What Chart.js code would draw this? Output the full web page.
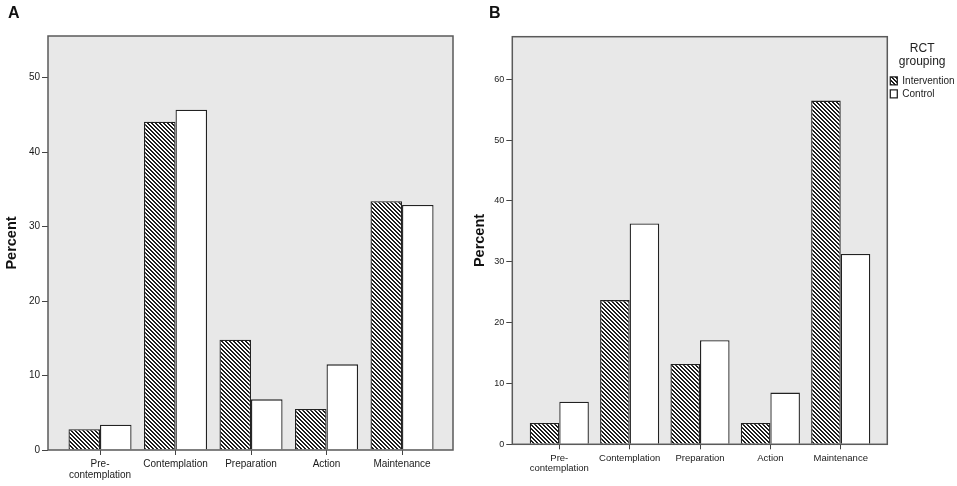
<!DOCTYPE html>
<html><head><meta charset="utf-8">
<script src="https://cdn.jsdelivr.net/npm/chart.js@4.4.0/dist/chart.umd.min.js"></script>
<style>
html,body{margin:0;padding:0;background:#fff;width:957px;height:486px;overflow:hidden}
#wrapA{position:absolute;left:0;top:0;width:470px;height:486px}
#wrapB{position:absolute;left:470px;top:0;width:487px;height:486px}
.panel{position:absolute;font:bold 16px "Liberation Sans",Arial,sans-serif;color:#111;line-height:normal}
</style></head><body>
<div id="wrapA"><canvas id="chartA" width="470" height="486"></canvas></div>
<div id="wrapB"><canvas id="chartB" width="487" height="486"></canvas></div>
<div class="panel" style="left:8px;top:4px">A</div>
<div class="panel" style="left:489px;top:4px">B</div>
<script>
// ---- data ----
const categories = ['Pre-contemplation', 'Contemplation', 'Preparation', 'Action', 'Maintenance'];
const xTickLabels = [['Pre-', 'contemplation'], 'Contemplation', 'Preparation', 'Action', 'Maintenance'];
const seriesNames = ['Intervention', 'Control'];
const interventionA = [2.8, 44.1, 14.8, 5.5, 33.4];
const controlA = [3.4, 45.7, 6.8, 11.5, 32.9];
const interventionB = [3.5, 23.7, 13.2, 3.5, 56.5];
const controlB = [7.0, 36.3, 17.1, 8.5, 31.3];
const yTicksA = [0, 10, 20, 30, 40, 50];
const yTicksB = [0, 10, 20, 30, 40, 50, 60];
const legendTitle = ['RCT', 'grouping'];
const axisTitle = 'Percent';

const FAMILY = '"Liberation Sans", Arial, sans-serif';

function hatch() {
  const s = 4;
  const c = document.createElement('canvas');
  c.width = s; c.height = s;
  const x = c.getContext('2d');
  x.fillStyle = '#ffffff'; x.fillRect(0, 0, s, s);
  x.fillStyle = '#1e1e1e';
  for (let py = 0; py < s; py++) {
    for (let px = 0; px < s; px++) {
      const d = ((px - py) % s + s) % s;
      if (d === 0 || d === 1) x.fillRect(px, py, 1, 1);
    }
  }
  return x.createPattern(c, 'repeat');
}

const framePlugin = {
  id: 'frame',
  beforeDatasetsDraw(chart) {
    const {ctx, chartArea: a} = chart;
    ctx.save();
    ctx.fillStyle = '#e8e8e8';
    ctx.fillRect(a.left, a.top, a.right - a.left, a.bottom - a.top);
    ctx.restore();
  },
  afterDatasetsDraw(chart) {
    const {ctx, chartArea: a} = chart;
    ctx.save();
    ctx.strokeStyle = '#5a5a5a';
    ctx.lineWidth = 1.5;
    ctx.strokeRect(a.left, a.top, a.right - a.left, a.bottom - a.top);
    ctx.restore();
  }
};

function makeChart(id, cfg) {
  return new Chart(document.getElementById(id), {
    type: 'bar',
    data: {
      datasets: [
        { label: seriesNames[0], data: categories.map((c, i) => ({x: i, y: cfg.intervention[i]})),
          backgroundColor: hatch(), borderColor: '#222', borderWidth: 1.3 },
        { label: seriesNames[1], data: categories.map((c, i) => ({x: i, y: cfg.control[i]})),
          backgroundColor: '#ffffff', borderColor: '#222', borderWidth: 1.3 }
      ]
    },
    options: {
      responsive: false,
      animation: false,
      devicePixelRatio: 1,
      layout: { padding: cfg.padding },
      datasets: { bar: { categoryPercentage: cfg.catPct, barPercentage: 1 } },
      plugins: { legend: cfg.legend, tooltip: { enabled: false } },
      scales: {
        x: {
          type: 'linear', min: cfg.xMin, max: cfg.xMax, offset: false,
          border: { display: false },
          grid: { offset: false, drawOnChartArea: false, drawTicks: true, tickLength: 5, color: '#444', lineWidth: 1 },
          afterBuildTicks(s) { s.ticks = categories.map((c, i) => ({value: i})); },
          afterFit(s) { s.height = cfg.xHeight; },
          ticks: { autoSkip: false, maxRotation: 0, minRotation: 0, padding: cfg.xPad, color: '#1a1a1a',
                   font: { family: FAMILY, size: cfg.xFont, lineHeight: 1.1 },
                   callback: (v) => xTickLabels[v] }
        },
        y: {
          min: 0, max: cfg.yMax,
          border: { display: false },
          grid: { drawOnChartArea: false, drawTicks: true, tickLength: 6, color: '#444', lineWidth: 1 },
          afterBuildTicks(s) { s.ticks = cfg.yTicks.map(v => ({value: v})); },
          afterFit(s) { s.width = cfg.yWidth; },
          ticks: { padding: 2, color: '#1a1a1a', font: { family: FAMILY, size: cfg.yFont } },
          title: { display: true, text: axisTitle, color: '#111', padding: { top: cfg.titlePad, bottom: 0 },
                   font: { family: FAMILY, size: 14.5, weight: 'bold', lineHeight: 1.2 } }
        }
      }
    },
    plugins: [framePlugin]
  });
}

makeChart('chartA', {
  intervention: interventionA, control: controlA, yTicks: yTicksA, yMax: 55.6,
  xMin: -0.689, xMax: 4.675, catPct: 0.835,
  padding: { top: 36, right: 17, bottom: 0, left: 0 },
  yWidth: 48, xHeight: 36, xPad: 4, xFont: 10, yFont: 10, titlePad: 3,
  legend: { display: false }
});

makeChart('chartB', {
  intervention: interventionB, control: controlB, yTicks: yTicksB, yMax: 67,
  xMin: -0.668, xMax: 4.662, catPct: 0.84,
  padding: { top: 36.7, right: 0, bottom: 0, left: 0 },
  yWidth: 42.3, xHeight: 41.7, xPad: 3.5, xFont: 9.5, yFont: 9, titlePad: 1.3,
  legend: {
    display: true, position: 'right', align: 'start', maxWidth: 69.7,
    title: { display: true, text: legendTitle, color: '#222', padding: { top: 6, bottom: 17 },
             font: { family: FAMILY, size: 12, lineHeight: 1.1 } },
    labels: { boxWidth: 7, boxHeight: 8, padding: 3, color: '#222', font: { family: FAMILY, size: 10 } }
  }
});
</script>
</body></html>
